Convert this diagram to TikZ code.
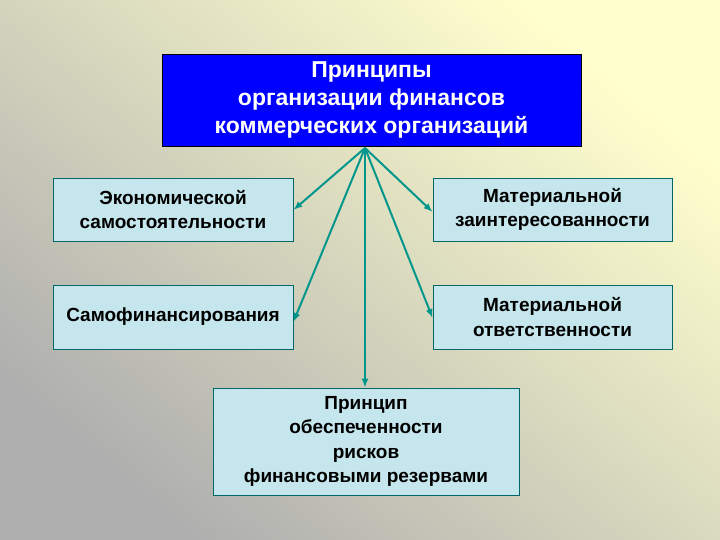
\documentclass[tikz,border=0pt]{standalone}
\usepackage{fontspec}
\setmainfont{Liberation Sans}
\usetikzlibrary{arrows.meta}
\begin{document}
\begin{tikzpicture}[x=1pt,y=-1pt,
 box/.style={draw=teal!80!black,fill={rgb,255:red,197;green,230;blue,236},line width=0.8pt,align=center,inner sep=0pt,font=\bfseries\fontsize{19}{24.5}\selectfont},
 arr/.style={draw={rgb,255:red,0;green,150;blue,140},line width=2pt,-{Latex[length=9pt,width=7pt]}}]
\shade[top color={rgb,255:red,255;green,255;blue,205},bottom color={rgb,255:red,175;green,175;blue,175},shading angle=-40] (0,0) rectangle (720,540);
\useasboundingbox (0,0) rectangle (720,540);
\node[draw=black,fill={rgb,255:red,0;green,0;blue,255},text=white,align=center,minimum width=419pt,minimum height=92pt,inner sep=0pt,font=\bfseries\fontsize{23}{28}\selectfont] (top) at (371.5,100) {Принципы\\организации финансов\\коммерческих организаций};
\node[box,minimum width=240pt,minimum height=63pt] (l1) at (173,209.5) {Экономической\\самостоятельности};
\node[box,minimum width=239pt,minimum height=63pt] (r1) at (552.5,209.5) {Материальной\\заинтересованности};
\node[box,minimum width=240pt,minimum height=64pt] (l2) at (173,317) {Самофинансирования};
\node[box,minimum width=239pt,minimum height=64pt] (r2) at (552.5,317) {Материальной\\ответственности};
\node[box,minimum width=306pt,minimum height=107pt] (b) at (366,441.5) {Принцип\\обеспеченности\\рисков\\финансовыми резервами};
\coordinate (s) at (365,148);
\draw[arr] (s) -- (l1.east |- 0,210);
\draw[arr] (s) -- (r1.west |- 0,212);
\draw[arr] (s) -- (l2.east |- 0,322);
\draw[arr] (s) -- (r2.west |- 0,318);
\draw[arr] (s) -- (s |- b.north);
\end{tikzpicture}
\end{document}
